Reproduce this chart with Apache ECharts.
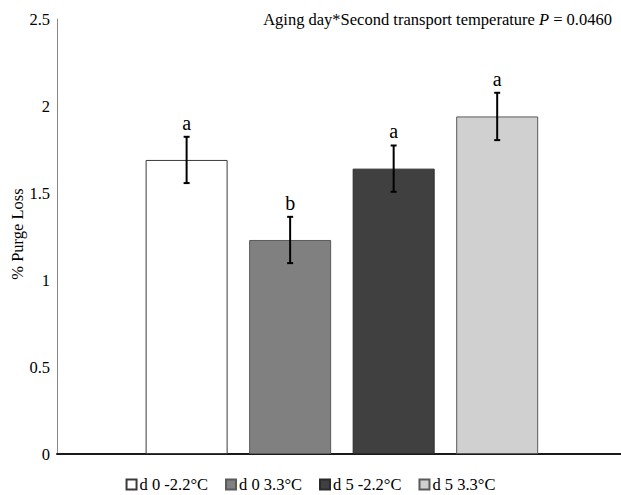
<!DOCTYPE html>
<html>
<head>
<meta charset="utf-8">
<script src="https://cdn.jsdelivr.net/npm/echarts@6/dist/echarts.min.js"></script>
<style>html,body{margin:0;padding:0;background:#fff}#c{width:621px;height:495px}</style>
</head>
<body>
<div id="c"></div>
<script>
var seriesNames = ['d 0 -2.2°C', 'd 0 3.3°C', 'd 5 -2.2°C', 'd 5 3.3°C'];
var purgeLoss = [1.69, 1.23, 1.64, 1.94];
var stdErr = [0.133, 0.133, 0.133, 0.136];
var letters = ['a', 'b', 'a', 'a'];
var yTicks = [0, 0.5, 1, 1.5, 2, 2.5];
var yAxisTitle = '% Purge Loss';
var annotation = 'Aging day*Second transport temperature ';
var pValue = '0.0460';

var fills = ['#ffffff', '#808080', '#404040', '#d0d0d0'];
var borders = ['#3a3a3a', '#5a5a5a', '#2a2a2a', '#5a5a5a'];
var FONT = '"Liberation Serif", "Times New Roman", serif';

var chart = echarts.init(document.getElementById('c'), null, {renderer: 'svg'});

var series = seriesNames.map(function (name, i) {
  return {
    name: name,
    type: 'bar',
    barWidth: 82,
    barGap: '-100%',
    itemStyle: {color: fills[i], borderColor: borders[i], borderWidth: 1},
    data: [[i, purgeLoss[i]]],
    z: 2
  };
});

series.push({
  type: 'custom',
  name: 'err',
  z: 10,
  data: purgeLoss.map(function (v, i) { return [i, v - stdErr[i], v + stdErr[i], i]; }),
  renderItem: function (params, api) {
    var x = api.value(0);
    var lo = api.coord([x, api.value(1)]);
    var hi = api.coord([x, api.value(2)]);
    var cap = 3;
    var st = {stroke: '#000', lineWidth: 2};
    return {
      type: 'group',
      children: [
        {type: 'line', shape: {x1: lo[0], y1: lo[1], x2: hi[0], y2: hi[1]}, style: st},
        {type: 'line', shape: {x1: hi[0] - cap, y1: hi[1], x2: hi[0] + cap, y2: hi[1]}, style: st},
        {type: 'line', shape: {x1: lo[0] - cap, y1: lo[1], x2: lo[0] + cap, y2: lo[1]}, style: st},
        {type: 'text', style: {text: letters[api.value(3)], x: hi[0], y: hi[1] - 14,
          align: 'center', verticalAlign: 'middle', fill: '#000', font: '20px ' + FONT}}
      ]
    };
  }
});

chart.setOption({
  animation: false,
  backgroundColor: '#fff',
  textStyle: {fontFamily: FONT},
  grid: {left: 57, right: 0, top: 19, bottom: 41, containLabel: false, outerBoundsMode: 'none'},
  xAxis: {
    type: 'value', min: -1.252, max: 4.196,
    axisLine: {show: true, onZero: false, lineStyle: {color: '#1a1a1a', width: 2}},
    axisTick: {show: false}, axisLabel: {show: false}, splitLine: {show: false}
  },
  yAxis: {
    type: 'value', min: yTicks[0], max: yTicks[yTicks.length - 1], interval: 0.5,
    axisLine: {show: true, onZero: false, lineStyle: {color: '#888', width: 1}},
    axisTick: {show: false},
    axisLabel: {fontFamily: FONT, fontSize: 16.5, color: '#000', margin: 7},
    splitLine: {show: false}
  },
  legend: {
    data: seriesNames,
    left: 'center', top: 474, padding: 2,
    icon: 'rect', itemWidth: 10, itemHeight: 10, itemGap: 17,
    textStyle: {fontFamily: FONT, fontSize: 16.5, color: '#000', padding: [0, 0, 0, -2]}
  },
  graphic: [{
    type: 'text', right: 9, top: 11,
    style: {
      text: '{n|' + annotation + '}{i|P}{n| = ' + pValue + '}',
      rich: {
        n: {fontFamily: FONT, fontSize: 16.5, fill: '#000'},
        i: {fontFamily: FONT, fontSize: 16.5, fontStyle: 'italic', fill: '#000'}
      }
    }
  }, {
    type: 'text', x: 17, y: 234, rotation: Math.PI / 2,
    style: {
      text: yAxisTitle, align: 'center', verticalAlign: 'middle',
      fill: '#000', font: '16.5px ' + FONT
    }
  }],
  series: series
});
</script>
</body>
</html>
